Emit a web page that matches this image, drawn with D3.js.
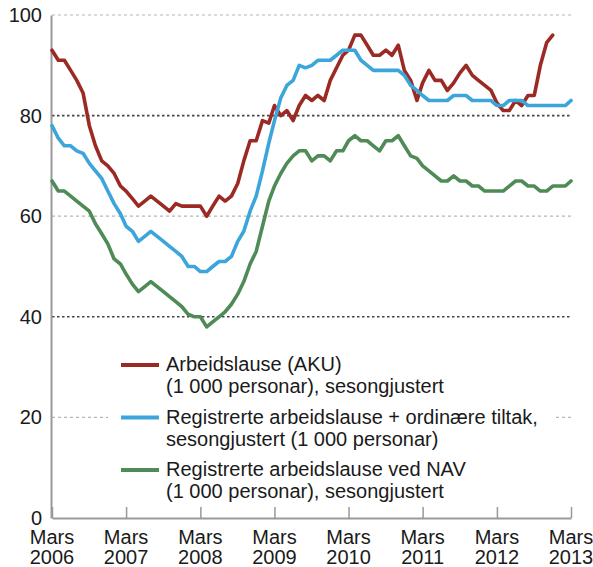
<!DOCTYPE html>
<html lang="no">

<head>
  <meta charset="UTF-8">
  <title>Arbeidslause</title>
  <script src="https://d3js.org/d3.v7.min.js"></script>
  <style>
    body {
      margin: 0;
      background: #fff;
    }

    svg text {
      font-family: "Liberation Sans", Arial, sans-serif;
      font-size: 20px;
      fill: #1a1a1a;
    }
  </style>
</head>

<body>
  <div id="chart"></div>
  <script>
    // monthly values, first point = Mars 2006
    var startMonth = new Date(2006, 2, 1);

    var aku = [93, 91, 91, 89, 87, 84.5, 78, 74, 71, 70, 68.5, 66, 65, 63.5, 62, 63,
      64, 63, 62, 61, 62.5, 62, 62, 62, 62, 60, 62, 64, 63, 64, 66.5, 71,
      75, 75, 79, 78.5, 82, 80, 81, 79, 82, 84, 83, 84, 83, 87, 89.5, 92,
      93, 96, 96, 94, 92, 92, 93, 92, 94, 89, 87, 83, 86.5, 89, 87, 87, 85, 86.5,
      88.5, 90, 88, 87, 86, 85, 82.5, 81, 81, 83, 82, 84, 84, 90, 94.5, 96];

    var regTiltak = [78, 75.5, 74, 74, 73, 72.5, 70.5, 69, 67.5, 65, 62.5, 60.5, 58, 57, 55, 56,
      57, 56, 55, 54, 53, 52, 50, 50, 49, 49, 50, 51, 51, 52, 55, 57,
      61, 64, 69, 74.5, 79, 83.5, 86, 87, 90, 89.5, 90, 91, 91, 91, 92, 93,
      93, 93, 91, 90, 89, 89, 89, 89, 89, 88, 86, 85, 84, 83, 83, 83, 83, 84,
      84, 84, 83, 83, 83, 83, 82, 82, 83, 83, 83, 82, 82, 82, 82, 82, 82, 82, 83];

    var regNav = [67, 65, 65, 64, 63, 62, 61, 58.5, 56.5, 54.5, 51.5, 50.5, 48.5, 46.5, 45, 46,
      47, 46, 45, 44, 43, 42, 40.5, 40, 40, 38, 39, 40, 41, 42.5, 44.5, 47,
      50.5, 53, 58, 63, 66, 68.5, 70.5, 72, 73, 73, 71, 72, 72, 71, 73, 73,
      75, 76, 75, 75, 74, 73, 75, 75, 76, 74, 72, 71.5, 70, 69, 68, 67, 67, 68,
      67, 67, 66, 66, 65, 65, 65, 65, 66, 67, 67, 66, 66, 65, 65, 66, 66, 66, 67];

    var yTicks = [0, 20, 40, 60, 80, 100];
    var xTickYears = [2006, 2007, 2008, 2009, 2010, 2011, 2012, 2013];
    var xTickMonth = "Mars";

    var seriesNames = [
      ["Arbeidslause (AKU)", "(1 000 personar), sesongjustert"],
      ["Registrerte arbeidslause + ordinære tiltak,", "sesongjustert (1 000 personar)"],
      ["Registrerte arbeidslause ved NAV", "(1 000 personar), sesongjustert"]
    ];
    var seriesColors = ["#9c2a24", "#3ca5d9", "#4e8b57"];

    var margin = {
        top: 15,
        right: 22,
        bottom: 49,
        left: 52
      },
      width = 593,
      height = 567;

    var x = d3.scaleTime()
      .domain([startMonth, new Date(2013, 2, 1)])
      .range([margin.left, width - margin.right]);

    var y = d3.scaleLinear()
      .domain([0, 100])
      .range([height - margin.bottom, margin.top]);

    var svg = d3.select("#chart").append("svg")
      .attr("width", width)
      .attr("height", height);

    // gridlines, 80 and 40 darker
    svg.append("g")
      .selectAll("line")
      .data(yTicks.filter(function (d) { return d > 0; }))
      .enter().append("line")
      .attr("x1", margin.left)
      .attr("x2", width - margin.right)
      .attr("y1", function (d) { return y(d); })
      .attr("y2", function (d) { return y(d); })
      .attr("stroke", function (d) { return d % 40 === 0 ? "#444" : "#b5b5b5"; })
      .attr("stroke-width", function (d) { return d % 40 === 0 ? 1.6 : 1.2; })
      .attr("stroke-dasharray", function (d) { return d % 40 === 0 ? "2.5,2.5" : "3,3"; });

    var yAxis = d3.axisLeft(y)
      .tickValues(yTicks)
      .tickSize(0)
      .tickPadding(9)
      .tickFormat(d3.format("d"));

    var gy = svg.append("g")
      .attr("transform", "translate(" + (margin.left - 1) + ",0)")
      .call(yAxis);
    gy.select(".domain").attr("stroke", "#999").attr("stroke-width", 2);
    gy.selectAll("text").style("font-size", "20px").attr("fill", "#1a1a1a")
      .attr("font-family", null);

    function lineFor(values) {
      return d3.line()
        .x(function (d, i) { return x(d3.timeMonth.offset(startMonth, i)); })
        .y(function (d) { return y(d); })(values);
    }

    // legend box hides the grid behind it
    var legend = svg.append("g");
    legend.append("rect")
      .attr("x", 108)
      .attr("y", 340)
      .attr("width", 447)
      .attr("height", 165)
      .attr("fill", "#fff");

    var allSeries = [aku, regTiltak, regNav];
    svg.append("g")
      .selectAll("path")
      .data(allSeries)
      .enter().append("path")
      .attr("d", function (d) { return lineFor(d); })
      .attr("fill", "none")
      .attr("stroke", function (d, i) { return seriesColors[i]; })
      .attr("stroke-width", 3.6)
      .attr("stroke-linejoin", "round")
      .attr("stroke-linecap", "round");

    var item = legend.selectAll(".item")
      .data(seriesNames)
      .enter().append("g")
      .attr("class", "item")
      .attr("transform", function (d, i) { return "translate(0," + (371 + i * 52.5) + ")"; });

    item.append("line")
      .attr("x1", 121)
      .attr("x2", 159)
      .attr("y1", -6)
      .attr("y2", -6)
      .attr("stroke", function (d, i) { return seriesColors[i]; })
      .attr("stroke-width", 4);

    item.selectAll("text")
      .data(function (d) { return d; })
      .enter().append("text")
      .attr("x", 166)
      .attr("y", function (d, i) { return i * 22; })
      .text(function (d) { return d; });

    // x axis, ticks pointing up
    var xAxis = d3.axisBottom(x)
      .tickValues(xTickYears.map(function (yr) { return new Date(yr, 2, 1); }))
      .tickSizeInner(-11)
      .tickSizeOuter(0)
      .tickFormat("");

    var gx = svg.append("g")
      .attr("transform", "translate(0," + (height - margin.bottom) + ")")
      .call(xAxis);
    gx.select(".domain").attr("stroke", "#999").attr("stroke-width", 2);
    gx.selectAll(".tick line").attr("stroke", "#999").attr("stroke-width", 1.5);

    var xl = svg.append("g")
      .selectAll("g")
      .data(xTickYears)
      .enter().append("g")
      .attr("transform", function (d) { return "translate(" + x(new Date(d, 2, 1)) + ",0)"; });
    xl.append("text")
      .attr("text-anchor", "middle")
      .attr("y", 544)
      .text(xTickMonth);
    xl.append("text")
      .attr("text-anchor", "middle")
      .attr("y", 563.5)
      .text(function (d) { return d; });
  </script>
</body>

</html>
